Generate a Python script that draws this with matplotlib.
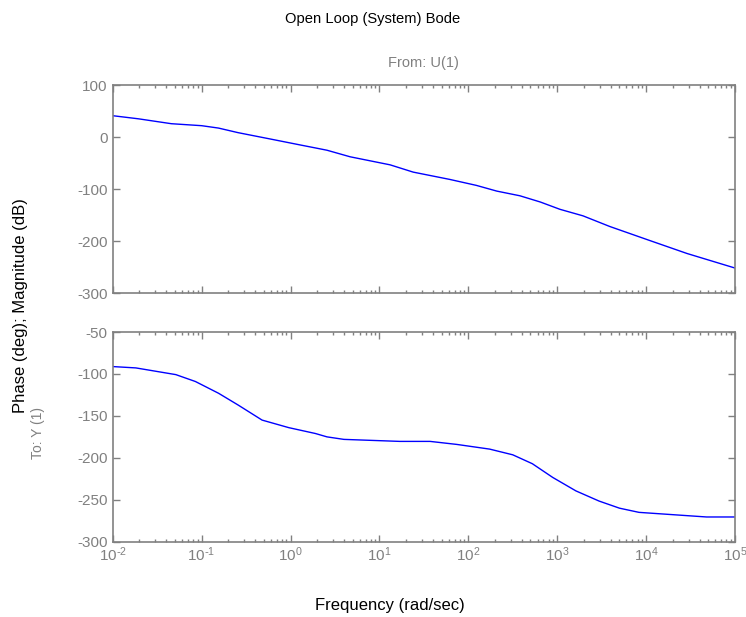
import numpy as np
import matplotlib
matplotlib.use("Agg")
import matplotlib.pyplot as plt
from matplotlib.ticker import LogLocator, FixedLocator, NullFormatter

plt.rcParams['font.family'] = ['Liberation Sans', 'DejaVu Sans']
plt.rcParams['axes.unicode_minus'] = False

# Magnitude response samples (log10 of rad/sec, dB)
mag_logw = [-2.0, -1.71, -1.34, -1.0, -0.81, -0.59, -0.21, 0.11, 0.28, 0.41,
            0.67, 1.12, 1.38, 1.79, 2.09, 2.32, 2.58, 2.81, 3.03, 3.29,
            3.59, 4.04, 4.46, 5.0]
mag_db = [41, 35, 25.6, 21.8, 17.2, 8.4, -4.4, -15.3, -21, -25.4,
          -38, -53.5, -67.5, -81.5, -93, -104, -113, -125, -139, -151.6,
          -172, -199, -224, -252]

# Phase response samples (log10 of rad/sec, degrees)
ph_logw = [-2.0, -1.74, -1.29, -1.07, -0.81, -0.59, -0.32, -0.02, 0.28, 0.41,
           0.6, 1.23, 1.57, 1.87, 2.24, 2.5, 2.72, 2.95, 3.21, 3.47,
           3.7, 3.92, 4.68, 5.0]
ph_deg = [-91.2, -92.8, -100.8, -109, -123, -137, -155, -164, -171, -175,
          -178, -180.4, -180.4, -184, -189.6, -196.4, -207, -223.4, -239.4, -251.5,
          -260, -265, -270.5, -270.5]

# Decade tick labels along the frequency axis
freq_exps = [-2, -1, 0, 1, 2, 3, 4, 5]
freq_labels = [r'$\mathdefault{10^{\text{-}%d}}$' % -e if e < 0 else r'$\mathdefault{10^{%d}}$' % e
               for e in freq_exps]

mag_w = 10.0 ** np.array(mag_logw)
ph_w = 10.0 ** np.array(ph_logw)

gray = '#808080'
line_color = '#0000ff'

fig = plt.figure(figsize=(7.46, 6.17), dpi=100)
ax1 = fig.add_axes([0.1511, 0.5251, 0.8342, 0.3371])
ax2 = fig.add_axes([0.1511, 0.1220, 0.8342, 0.3399])

ax1.plot(mag_w, mag_db, color=line_color, lw=1.0)
ax2.plot(ph_w, ph_deg, color=line_color, lw=1.0)

for ax in (ax1, ax2):
    ax.set_xscale('log')
    ax.set_xlim(1e-2, 1e5)
    ax.xaxis.set_major_locator(FixedLocator([10.0 ** e for e in freq_exps]))
    ax.xaxis.set_minor_locator(LogLocator(base=10, subs=np.arange(2, 10), numticks=20))
    ax.xaxis.set_minor_formatter(NullFormatter())
    for s in ax.spines.values():
        s.set_color(gray)
        s.set_linewidth(1.2)
    ax.tick_params(which='both', direction='in', top=True, right=True,
                   color=gray, labelcolor=gray, labelsize=11, width=1.0)
    ax.tick_params(which='major', length=5)
    ax.tick_params(which='minor', length=2.5)

ax1.set_ylim(-300, 100)
ax1.yaxis.set_major_locator(FixedLocator([-300, -200, -100, 0, 100]))
ax1.tick_params(axis='x', labelbottom=False)

ax2.set_ylim(-300, -50)
ax2.yaxis.set_major_locator(FixedLocator([-300, -250, -200, -150, -100, -50]))
ax2.set_xticklabels(freq_labels)
ax2.tick_params(axis='x', pad=3)

fig.text(0.5, 0.970, 'Open Loop (System) Bode', ha='center', va='center',
         fontsize=10.6, color='black')
fig.text(0.567, 0.898, 'From: U(1)', ha='center', va='center',
         fontsize=10.5, color=gray)
fig.text(0.051, 0.298, 'To: Y (1)', ha='center', va='center', rotation=90,
         fontsize=10, color=gray)
fig.text(0.027, 0.505, 'Phase (deg); Magnitude (dB)', ha='center', va='center',
         rotation=90, fontsize=12, color='black')
fig.text(0.523, 0.019, 'Frequency (rad/sec)', ha='center', va='center',
         fontsize=12, color='black')

fig.savefig('out.png', dpi=100)
